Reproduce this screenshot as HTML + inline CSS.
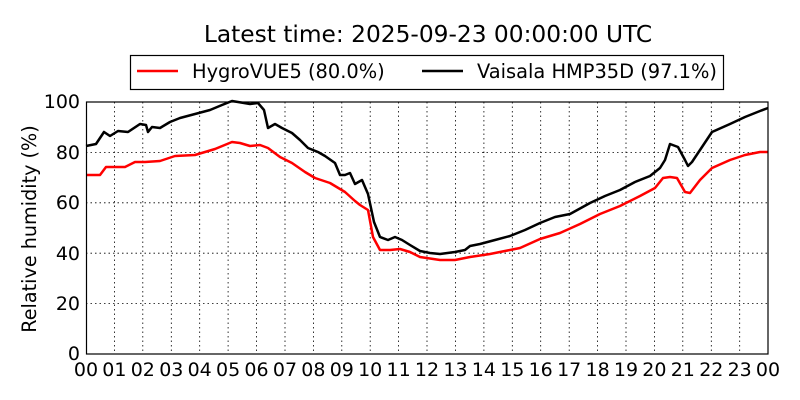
<!DOCTYPE html>
<html><head><meta charset="utf-8"><style>
html,body{margin:0;padding:0;background:#fff;}
svg{display:block;font-family:"DejaVu Sans","Liberation Sans",sans-serif;}
</style></head><body>
<svg width="800" height="400" viewBox="0 0 800 400" xmlns="http://www.w3.org/2000/svg">
<rect width="800" height="400" fill="#fff"/>
<text x="428" y="42" font-size="23.3" text-anchor="middle" fill="#000">Latest time: 2025-09-23 00:00:00 UTC</text>
<rect x="130.5" y="55.5" width="593" height="34" fill="#fff" stroke="#000" stroke-width="1.2"/>
<line x1="137" y1="71" x2="178" y2="71" stroke="#f00" stroke-width="2.5"/>
<text x="192" y="78" font-size="19.4">HygroVUE5 (80.0%)</text>
<line x1="422" y1="71" x2="463" y2="71" stroke="#000" stroke-width="2.5"/>
<text x="477" y="78" font-size="19.4">Vaisala HMP35D (97.1%)</text>
<g stroke="#000" stroke-width="0.8" stroke-dasharray="1.5,3" fill="none">
<path d="M114.4 102V354M142.8 102V354M171.3 102V354M199.7 102V354M228.1 102V354M256.5 102V354M285 102V354M313.4 102V354M341.8 102V354M370.2 102V354M398.6 102V354M427 102V354M455.5 102V354M483.9 102V354M512.3 102V354M540.7 102V354M569.2 102V354M597.6 102V354M626 102V354M654.4 102V354M682.8 102V354M711.3 102V354M739.7 102V354"/>
<path d="M86 152.4H768M86 202.8H768M86 253.2H768M86 303.6H768"/>
</g>
<polyline fill="none" stroke="#f00" stroke-width="2.5" stroke-linejoin="round" points="86,175 100,175 106,167 112,167 125,167 135,162 145,162 160,161 175,156 195,155 215,149 232,142 240,143 250,146 260,145 268,148 280,157 292,163 305,172 315,178 330,183 345,192 355,201 360,205 368,210 373,237 380,250 390,250 400,249 410,252 420,257 440,260 455,260 470,257 490,254 510,250 520,248 540,239 560,233 580,224 600,214 620,206 640,196 655,188 663,178 670,177 677,178 685,192 690,193 700,180 712,168 730,160 745,155 760,152 768,152"/>
<polyline fill="none" stroke="#000" stroke-width="2.5" stroke-linejoin="round" points="86,146 96,144 104,132 110,136 118,131 128,132 140,124 146,125 148,132 152,127 160,128 170,122 180,118 195,114 210,110 222,105 232,101 250,104 258,103 264,110 268,128 275,124 282,128 292,133 300,140 308,148 318,152 325,156 335,163 340,175 345,175 350,173 355,184 362,180 368,194 374,222 380,237 388,240 395,237 402,240 410,245 420,251 430,253 440,254 455,252 465,250 470,246 480,244 495,240 510,236 525,230 540,223 555,217 570,214 590,203 605,196 620,190 635,182 650,176 660,168 665,160 670,144 678,147 685,160 688,166 692,162 700,150 712,132 730,124 745,117 760,111 768,108"/>
<rect x="86.5" y="102" width="681.5" height="252" fill="none" stroke="#000" stroke-width="1.2"/>
<g font-size="19" text-anchor="end">
<text x="80" y="108">100</text><text x="80" y="159">80</text><text x="80" y="209">60</text><text x="80" y="260">40</text><text x="80" y="310">20</text><text x="80" y="360">0</text>
</g>
<g font-size="19" text-anchor="middle">
<text x="86" y="376">00</text><text x="114.4" y="376">01</text><text x="142.8" y="376">02</text><text x="171.3" y="376">03</text><text x="199.7" y="376">04</text><text x="228.1" y="376">05</text><text x="256.5" y="376">06</text><text x="285" y="376">07</text><text x="313.4" y="376">08</text><text x="341.8" y="376">09</text><text x="370.2" y="376">10</text><text x="398.6" y="376">11</text><text x="427" y="376">12</text><text x="455.5" y="376">13</text><text x="483.9" y="376">14</text><text x="512.3" y="376">15</text><text x="540.7" y="376">16</text><text x="569.2" y="376">17</text><text x="597.6" y="376">18</text><text x="626" y="376">19</text><text x="654.4" y="376">20</text><text x="682.8" y="376">21</text><text x="711.3" y="376">22</text><text x="739.7" y="376">23</text><text x="768" y="376">00</text>
</g>
<text transform="translate(36,229) rotate(-90)" font-size="19.2" text-anchor="middle">Relative humidity (%)</text>
</svg>
</body></html>
